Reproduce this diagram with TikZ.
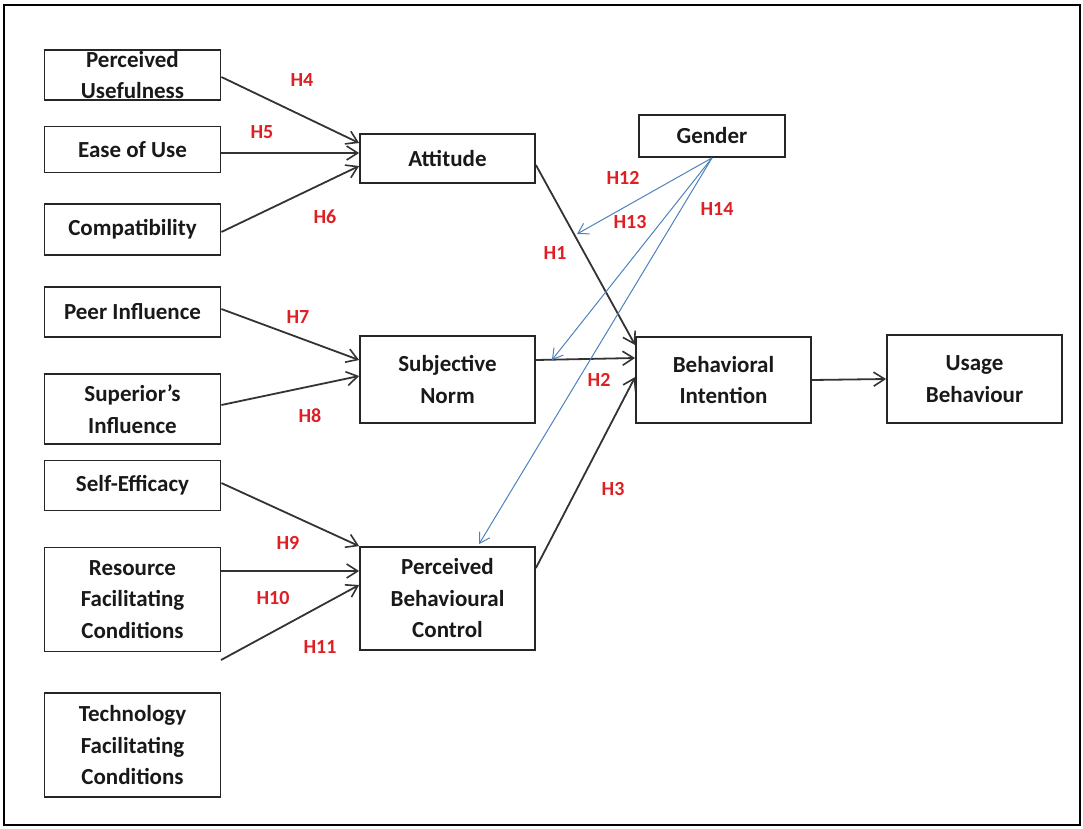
\documentclass[tikz,border=0pt]{standalone}
\usepackage{fontspec}
\setmainfont{Carlito}
\usetikzlibrary{arrows.meta,calc}
\definecolor{hred}{RGB}{222,32,36}
\definecolor{gblue}{RGB}{79,129,189}
\begin{document}
\begin{tikzpicture}[x=1pt,y=-1pt,
 box/.style={draw=black!85, line width=1.8pt, align=center, inner sep=0pt, font=\fontsize{23}{31.5}\selectfont\bfseries, text=black!90},
 lb/.style={font=\fontsize{20}{22}\selectfont\bfseries, text=hred, inner sep=0pt},
 arr/.style={line width=1.8pt, draw=black!80, -{Straight Barb[length=11pt,width=14pt,line width=1.6pt]}},
 barr/.style={line width=1pt, draw=gblue, -{Straight Barb[length=10pt,width=12pt,line width=1pt]}}]
\useasboundingbox (0,0) rectangle (1083,828);
\draw[line width=2.6pt] (4,5) rectangle (1080,825);
% left column
\node[box, minimum width=176pt, minimum height=50pt] (pu) at (132.5,75) {Perceived\\Usefulness};
\node[box, minimum width=176pt, minimum height=46pt] (eou) at (132.5,149.5) {Ease of Use};
\node[box, minimum width=176pt, minimum height=51pt] (comp) at (132.5,229.5) {Compatibility};
\node[box, minimum width=176pt, minimum height=50pt] (peer) at (132.5,312) {Peer Influence};
\node[box, minimum width=176pt, minimum height=70pt] (sup) at (132.5,409) {Superior’s\\Influence};
\node[box, minimum width=176pt, minimum height=50pt] (se) at (132.5,485.5) {Self-Efficacy};
\node[box, minimum width=176pt, minimum height=104pt] (res) at (132.5,599.5) {Resource\\Facilitating\\Conditions};
\node[box, minimum width=176pt, minimum height=104pt] (tech) at (132.5,745) {Technology\\Facilitating\\Conditions};
% middle column
\node[box, minimum width=175pt, minimum height=49pt] (att) at (447.5,158.5) {Attitude};
\node[box, minimum width=175pt, minimum height=87pt] (sn) at (447.5,379.5) {Subjective\\Norm};
\node[box, minimum width=175pt, minimum height=103pt] (pbc) at (447.5,598.5) {Perceived\\Behavioural\\Control};
% right
\node[box, minimum width=175pt, minimum height=86pt] (bi) at (723.5,380) {Behavioral\\Intention};
\node[box, minimum width=175pt, minimum height=88pt] (ub) at (974.5,379) {Usage\\Behaviour};
\node[box, minimum width=146pt, minimum height=42pt] (gen) at (712,136) {Gender};
% coordinates
\coordinate (h11s) at (221,660);
\coordinate (g12) at (577,234);
\coordinate (g13) at ([xshift=16pt,yshift=19.5pt]sn.east);
\coordinate (g14) at ([xshift=31.5pt,yshift=2pt]pbc.north);
% black arrows
\draw[arr] ([yshift=-2pt]pu.east) -- ([yshift=15.5pt]att.west);
\draw[arr] ([yshift=-3.5pt]eou.east) -- ([yshift=5.5pt]att.west);
\draw[arr] ([yshift=-2.5pt]comp.east) -- ([yshift=-7.5pt]att.west);
\draw[arr] ([yshift=3pt]peer.east) -- ([yshift=19.5pt]sn.west);
\draw[arr] ([yshift=4pt]sup.east) -- ([yshift=3.5pt]sn.west);
\draw[arr] ([yshift=2.5pt]se.east) -- (pbc.north west);
\draw[arr] ([yshift=28.5pt]res.east) -- ([yshift=27.5pt]pbc.west);
\draw[arr] (h11s) -- ([yshift=13.5pt]pbc.west);
\draw[arr] ([yshift=-6.5pt]att.east) -- ([yshift=35pt]bi.west);
\draw[arr] ([yshift=19.5pt]sn.east) -- ([yshift=22pt]bi.west);
\draw[arr] ([yshift=30.5pt]pbc.east) -- ([yshift=3pt]bi.west);
\draw[arr] (bi.east) -- (ub.west);
% blue arrows
\draw[barr] (gen.south) -- (g12);
\draw[barr] (gen.south) -- (g13);
\draw[barr] (gen.south) -- (g14);
% labels
\node[lb] (l4) at (302,80) {H4};
\node[lb] (l5) at (262,132) {H5};
\node[lb] (l6) at (325,217) {H6};
\node[lb] (l7) at (298,317) {H7};
\node[lb] (l8) at (310,416) {H8};
\node[lb] (l9) at (288,543) {H9};
\node[lb] (l10) at (273,598) {H10};
\node[lb] (l11) at (320,647) {H11};
\node[lb] (l1) at (555,253) {H1};
\node[lb] (l2) at (599,380) {H2};
\node[lb] (l3) at (613,489) {H3};
\node[lb] (l12) at (623,178) {H12};
\node[lb] (l13) at (630,222) {H13};
\node[lb] (l14) at (717,209) {H14};
\end{tikzpicture}
\end{document}
